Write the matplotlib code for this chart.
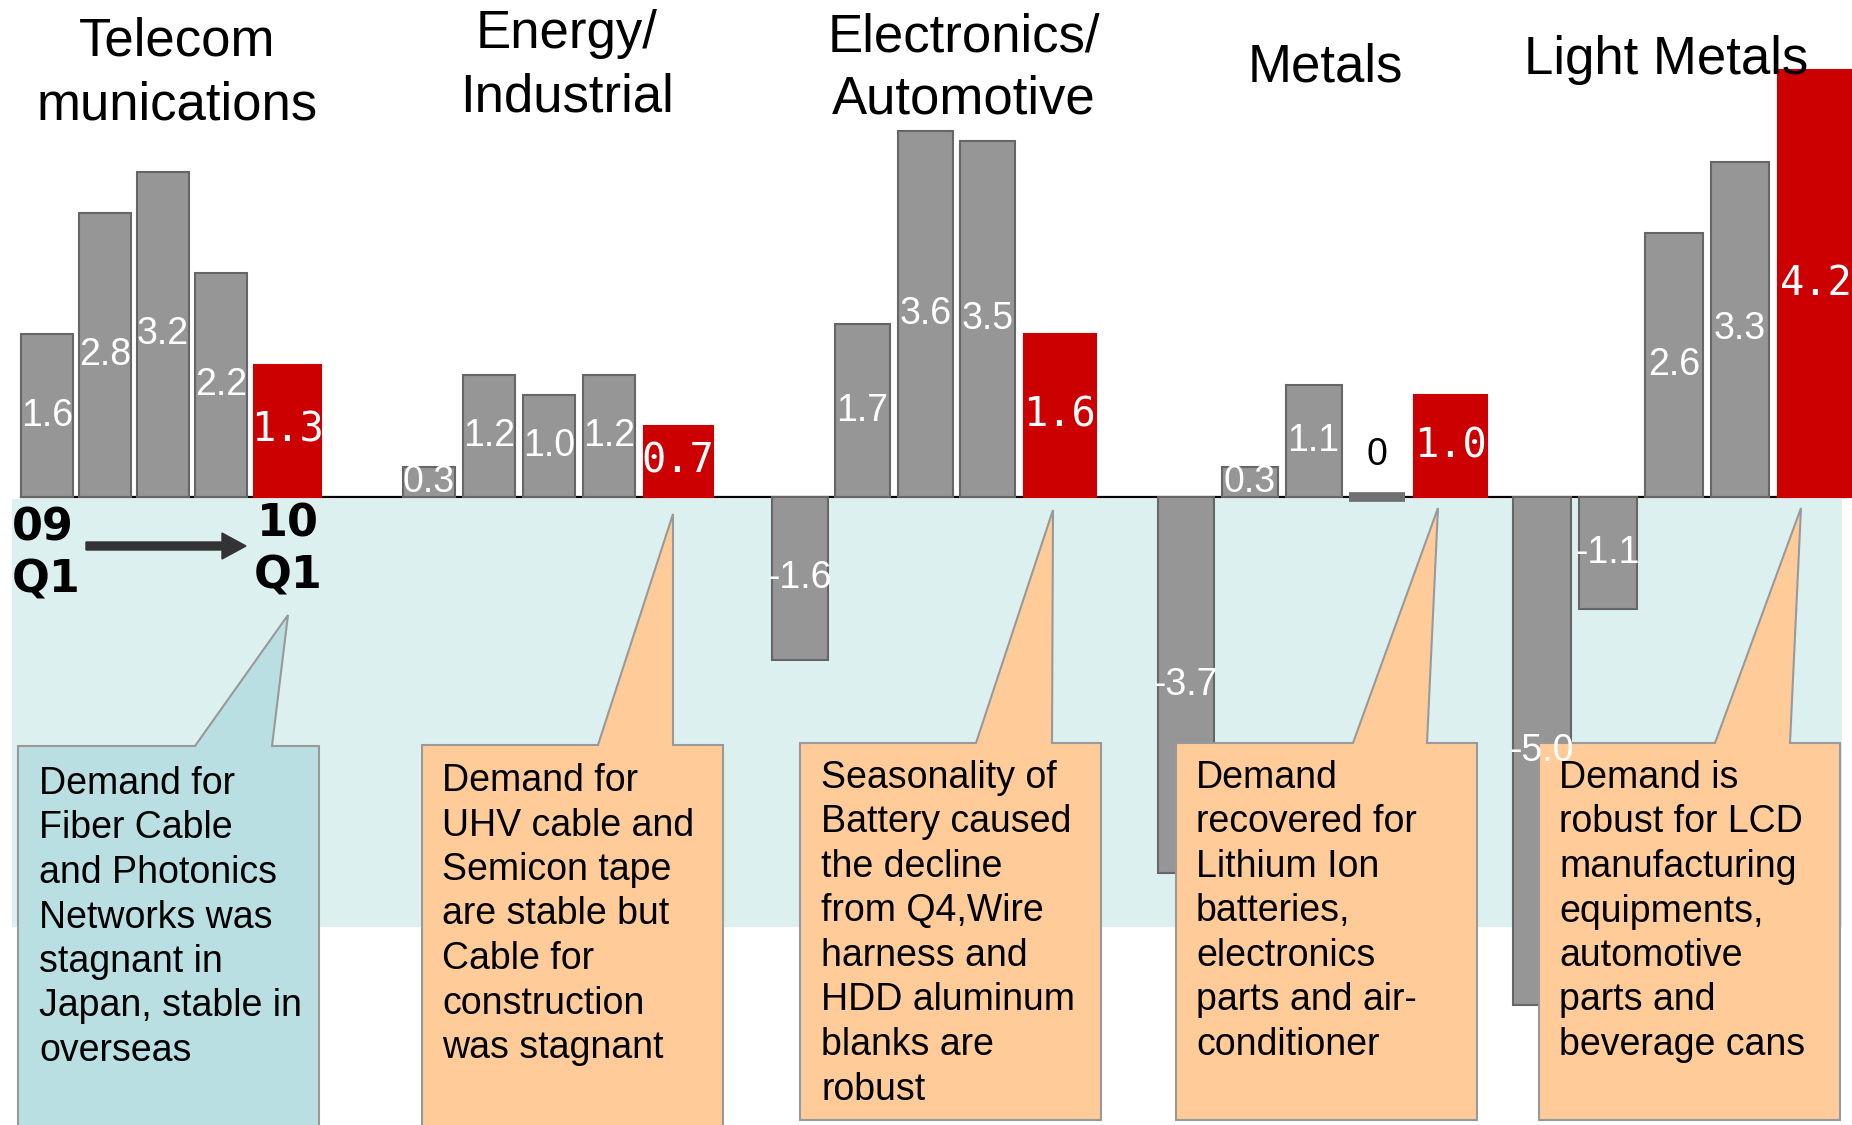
import matplotlib
matplotlib.use("Agg")
import matplotlib.pyplot as plt
from matplotlib.patches import Polygon, Rectangle, FancyArrow
import numpy as np

# ---- data -----------------------------------------------------------------
GROUPS = ["Telecom\nmunications", "Energy/\nIndustrial", "Electronics/\nAutomotive",
          "Metals", "Light Metals"]
QUARTERS = ["09 Q1", "09 Q2", "09 Q3", "09 Q4", "10 Q1"]
TELECOM = [1.6, 2.8, 3.2, 2.2, 1.3]
ENERGY = [0.3, 1.2, 1.0, 1.2, 0.7]
ELECTRONICS = [-1.6, 1.7, 3.6, 3.5, 1.6]
METALS = [-3.7, 0.3, 1.1, 0.0, 1.0]
LIGHT_METALS = [-5.0, -1.1, 2.6, 3.3, 4.2]
SERIES = [TELECOM, ENERGY, ELECTRONICS, METALS, LIGHT_METALS]

NOTES = [
    ["Demand for", "Fiber Cable", "and Photonics", "Networks was",
     "stagnant in", "Japan, stable in", "overseas"],
    ["Demand for", "UHV cable and", "Semicon tape", "are stable but",
     "Cable for", "construction", "was stagnant"],
    ["Seasonality of", "Battery caused", "the decline", "from Q4,Wire",
     "harness and", "HDD aluminum", "blanks are", "robust"],
    ["Demand", "recovered for", "Lithium Ion", "batteries,", "electronics",
     "parts and air-", "conditioner"],
    ["Demand is", "robust for LCD", "manufacturing", "equipments,",
     "automotive", "parts and", "beverage cans"],
]

# ---- layout (pixels of the 1852x1125 canvas) --------------------------------
W, H = 1852, 1125
BASE_Y = 497
PX_PER_UNIT = 101.6
GROUP_C0 = [47, 429, 800, 1186, 1542]
GROUP_PITCH = [58, 60, 62.6, 63.8, 66]
TITLE_X = [177, 567, 964, 1325, 1666]
TITLE_BASE = [(55, 119), (48, 111), (51, 113), (81,), (74,)]
# left, right, top, bottom, pointer base left, pointer base right, tip x, tip y
BOXES = [
    (18, 319, 746, 1130, 195, 272, 288, 615),
    (422, 723, 745, 1130, 598, 673, 673, 514),
    (800, 1101, 743, 1120, 976, 1052, 1053, 510),
    (1176, 1477, 743, 1120, 1353, 1427, 1438, 508),
    (1539, 1840, 743, 1120, 1715, 1790, 1801, 508),
]
TEXT_POS = [(39, 784), (442, 781), (821, 778), (1196, 778), (1559, 778)]
LINE_STEP = 44.5

GRAY = "#969696"
EDGE = "#666666"
RED = "#CC0000"
BAND = "#DDF0F0"
CYAN = "#B9DFE3"
ORANGE = "#FFCC99"

plt.rcParams["font.family"] = ["Liberation Sans", "DejaVu Sans"]

fig = plt.figure(figsize=(W / 100, H / 100), dpi=100)

bg = fig.add_axes([0, 0, 1, 1], label="bg")
bg.set_xlim(0, W)
bg.set_ylim(H, 0)
bg.axis("off")
bg.set_zorder(0)
bg.add_patch(Rectangle((12, 499), 1830, 428, facecolor=BAND, edgecolor="none"))
bg.plot([21, 1846], [BASE_Y, BASE_Y], color="black", lw=1.6)

# overlay for callouts and text, above the bars
ov = fig.add_axes([0, 0, 1, 1], label="overlay")
ov.set_xlim(0, W)
ov.set_ylim(H, 0)
ov.axis("off")
ov.set_zorder(3)
ov.patch.set_visible(False)

for g, (vals, c0, p) in enumerate(zip(SERIES, GROUP_C0, GROUP_PITCH)):
    ax = fig.add_axes([(c0 - 0.6 * p) / W, 0, 5.45 * p / W, 1], label=f"bars{g}")
    ax.set_xlim(-0.6, 4.85)
    ax.set_ylim(-(H - BASE_Y) / PX_PER_UNIT, BASE_Y / PX_PER_UNIT)
    ax.axis("off")
    ax.set_zorder(1)
    ax.patch.set_visible(False)
    x = np.arange(len(QUARTERS), dtype=float)
    x[-1] += 0.15
    widths = [0.88] * 4 + [1.15]
    colors = [GRAY] * 4 + [RED]
    edges = [EDGE] * 4 + [RED]
    bars = ax.bar(x, vals, width=widths, color=colors, edgecolor=edges, linewidth=1.5)
    # value labels go on the overlay so the callouts never hide them
    for i, (b, v) in enumerate(zip(bars, vals)):
        if v == 0:
            # a zero bar still shows as a flat stub on the axis
            b.set_linewidth(7)
            b.set_edgecolor("#707070")
            ov.annotate("0", (x[i], 0), xycoords=ax.transData, xytext=(0, 30),
                        textcoords="offset points", ha="center", va="center",
                        fontsize=27, color="black", zorder=6)
        elif i == len(vals) - 1:
            ov.text(x[i], v / 2, f"{v:.1f}", transform=ax.transData, ha="center",
                    va="center", fontsize=29, color="white",
                    family="DejaVu Sans Mono", zorder=6)
        else:
            ov.text(x[i], v / 2, f"{v:.1f}", transform=ax.transData, ha="center",
                    va="center", fontsize=27, color="white", zorder=6)

for name, tx, bases in zip(GROUPS, TITLE_X, TITLE_BASE):
    for line, by in zip(name.split("\n"), bases):
        ov.text(tx, by, line, ha="center", va="baseline", fontsize=38, color="black")

for k, (box, (tx, ty), lines) in enumerate(zip(BOXES, TEXT_POS, NOTES)):
    l, r, t, b, bl, br, px, py = box
    pts = [(l, t), (bl, t), (px, py), (br, t), (r, t), (r, b), (l, b)]
    ov.add_patch(Polygon(pts, closed=True, facecolor=CYAN if k == 0 else ORANGE,
                         edgecolor="#999999", lw=1.5))
    for j, line in enumerate(lines):
        ov.text(tx, ty + j * LINE_STEP, line, ha="left", va="center", fontsize=27,
                color="black")

# period marker under the first group
for s, (tx, ty) in zip(["09", "Q1", "10", "Q1"], [(12, 528), (12, 580), (257, 524), (254, 576)]):
    ov.text(tx, ty, s, ha="left", va="center", fontsize=32, weight="bold",
            family="DejaVu Sans")
ov.add_patch(FancyArrow(86, 546, 160, 0, width=8, head_width=26, head_length=24,
                        length_includes_head=True, color="#333333"))

fig.savefig("out.png", dpi=100, facecolor="white")
